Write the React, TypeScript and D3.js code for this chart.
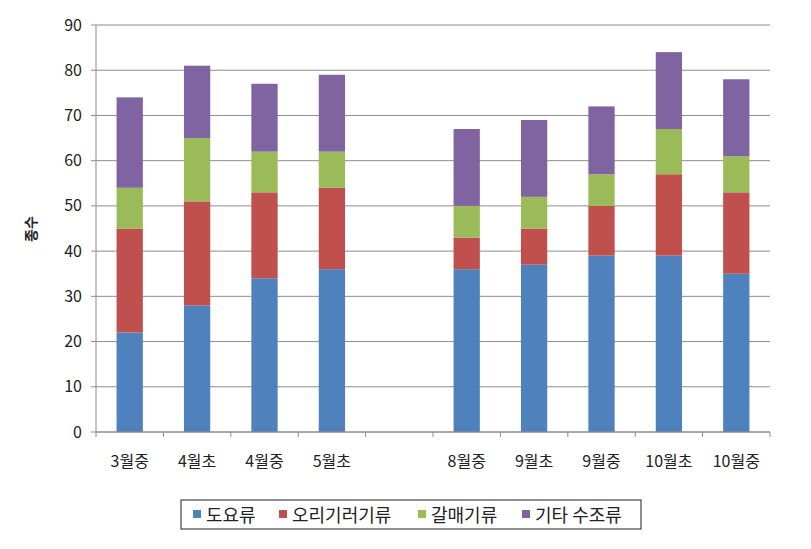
import React from 'react';
import * as d3 from 'd3';

const categories = ['3월중', '4월초', '4월중', '5월초', '', '8월중', '9월초', '9월중', '10월초', '10월중'];
const seriesNames = ['도요류', '오리기러기류', '갈매기류', '기타 수조류'];
const seriesColors = ['#4f81bd', '#c0504d', '#9bbb59', '#8064a2'];
const shorebirds = [22, 28, 34, 36, null, 36, 37, 39, 39, 35];
const waterfowl = [23, 23, 19, 18, null, 7, 8, 11, 18, 18];
const gulls = [9, 14, 9, 8, null, 7, 7, 7, 10, 8];
const others = [20, 16, 15, 17, null, 17, 17, 15, 17, 17];
const yTicks = [0, 10, 20, 30, 40, 50, 60, 70, 80, 90];

const font = '"Noto Sans CJK KR", "Noto Sans", sans-serif';

export default function App() {
    const width = 811;
    const height = 549;
    const margin = {t: 25, b: 117, l: 96, r: 41};

    const x = d3.scaleBand<number>()
        .domain(d3.range(categories.length))
        .range([margin.l, width - margin.r]);
    const y = d3.scaleLinear()
        .domain([0, 90])
        .range([height - margin.b, margin.t]);

    const rows = categories.map((c, i) => ({
        i,
        s0: shorebirds[i] ?? 0,
        s1: waterfowl[i] ?? 0,
        s2: gulls[i] ?? 0,
        s3: others[i] ?? 0,
    }));
    const stack = d3.stack<any>().keys(['s0', 's1', 's2', 's3'])(rows);

    const barW = x.bandwidth() * 0.39;
    const x0 = margin.l;
    const x1 = width - margin.r;
    const y0 = y(0);

    // legend layout
    const legendItems = [
        {x: 193, tx: 206},
        {x: 279, tx: 292},
        {x: 418, tx: 431},
        {x: 522, tx: 535},
    ];

    return (
        <svg width={width} height={height} style={{position: 'absolute', left: 0, top: 0, background: '#fff'}}>
            {/* gridlines */}
            {yTicks.map(t => (
                <line key={'g' + t} x1={x0} x2={x1} y1={y(t)} y2={y(t)} stroke="#8c8c8c" strokeWidth={1}/>
            ))}
            {/* bars */}
            {stack.map((layer, k) => (
                <g key={k} fill={seriesColors[k]}>
                    {layer.map((d, i) => (categories[i] === '' ? null :
                        <rect key={i}
                              x={(x(i) as number) + (x.bandwidth() - barW) / 2}
                              y={y(d[1])}
                              width={barW}
                              height={y(d[0]) - y(d[1])}/>
                    ))}
                </g>
            ))}
            {/* y axis */}
            <line x1={x0} x2={x0} y1={y(90)} y2={y0} stroke="#8c8c8c"/>
            {yTicks.map(t => (
                <g key={'y' + t} transform={`translate(${x0},${y(t)})`}>
                    <line x1={-5} x2={0} y1={0} y2={0} stroke="#8c8c8c"/>
                    <text x={-14} y={5.5} textAnchor="end" fontSize={16} fontFamily={font} fill="#222">{t}</text>
                </g>
            ))}
            {/* x axis */}
            <line x1={x0} x2={x1} y1={y0} y2={y0} stroke="#8c8c8c"/>
            {d3.range(categories.length + 1).map(i => {
                const px = x0 + i * x.step();
                return <line key={'xt' + i} x1={px} x2={px} y1={y0} y2={y0 + 5} stroke="#8c8c8c"/>;
            })}
            {categories.map((c, i) => (
                <text key={'xl' + i} x={(x(i) as number) + x.bandwidth() / 2} y={467}
                      textAnchor="middle" fontSize={16} fontFamily={font} fill="#222">{c}</text>
            ))}
            {/* y title */}
            <text transform="translate(36,229) rotate(-90)" textAnchor="middle" fontSize={14}
                  fontWeight="bold" fontFamily={font} fill="#222">종수</text>
            {/* legend */}
            <rect x={181} y={500} width={460} height={29} fill="#fff" stroke="#444" strokeWidth={1.2}/>
            {seriesNames.map((n, k) => (
                <g key={'lg' + k}>
                    <rect x={legendItems[k].x} y={510} width={8} height={8} fill={seriesColors[k]}/>
                    <text x={legendItems[k].tx} y={521.5} fontSize={18} fontFamily={font} fill="#222">{n}</text>
                </g>
            ))}
        </svg>
    );
}
